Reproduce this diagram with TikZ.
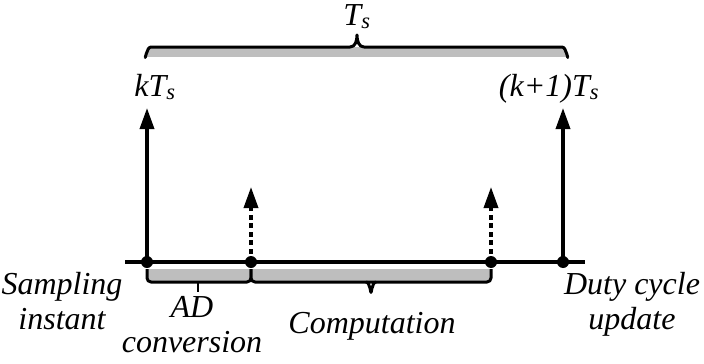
\documentclass[tikz,border=0pt]{standalone}
\usepackage{fontspec}
\setmainfont{Liberation Serif}
\usepackage{tikz}
\usetikzlibrary{arrows.meta,positioning,calc}
\definecolor{bracegray}{RGB}{190,190,190}

\begin{document}
\begin{tikzpicture}[x=1pt, y=-1pt, font=\itshape\fontsize{32}{35}\selectfont, dot/.style={circle, fill, inner sep=0pt, minimum size=12pt}, arr/.style={-{Triangle[length=21pt, width=14pt]}, line width=3.5pt}, darr/.style={arr, dash pattern=on 5pt off 3.5pt}, txt/.style={align=center, inner sep=0pt}, brc/.style={line width=3pt, line join=round}]
\useasboundingbox (0,0) rectangle (704,364);
% time axis and instants
\node[dot] (samp) at (147,262) {};
\node[dot] (conv) at (251,262) {};
\node[dot] (comp) at (491,262) {};
\node[dot] (duty) at (563,262) {};
\coordinate (axl) at (125,262);
\coordinate (axr) at (585,262);
\draw[line width=3.5pt] (axl) -- (axr);
% arrows
\coordinate (samptop) at (147,108);
\coordinate (convtop) at (251,187);
\coordinate (comptop) at (491,187);
\coordinate (dutytop) at (563,108);
\draw[arr] (samp.center) -- (samptop);
\draw[arr] (duty.center) -- (dutytop);
\draw[darr] (conv.center) -- (convtop);
\draw[darr] (comp.center) -- (comptop);
% period brace
\fill[bracegray] (147,47) rectangle (566,57);
\draw[brc] (145,57) to[out=-90, in=180] (151,47) -- (350,47) to[out=0, in=-90] (357,35) to[out=-90, in=180] (364,47) -- (562,47) to[out=0, in=-90] (568,57);
% AD conversion brace
\fill[bracegray] (147,269) rectangle (251,282);
\draw[brc] (147,269) -- (147,278) to[out=-90, in=180] (151,282) -- (247,282) to[out=0, in=-90] (251,278) -- (251,269);
\draw[line width=1.5pt] (198,282) -- (198,292);
% computation brace
\fill[bracegray] (251,269) rectangle (491,282);
\draw[brc] (251,269) -- (251,278) to[out=-90, in=180] (255,282) -- (487,282) to[out=0, in=-90] (491,278) -- (491,269);
\draw[brc] (366,282) to[out=0, in=-90] (371,292) to[out=-90, in=180] (376,282);
% labels
\node[txt, anchor=base] (per) at (357,25) {T\textsubscript{s}};
\node[txt, anchor=base] (kts) at (155,96) {kT\textsubscript{s}};
\node[txt, anchor=base] (k1ts) at (549,96) {(k+1)T\textsubscript{s}};
\node[txt, anchor=north] (lsamp) at (62,272) {Sampling\\instant};
\node[txt, anchor=north] (lconv) at (192,296) {AD\\conversion};
\node[txt, anchor=base] (lcomp) at (372,333) {Computation};
\node[txt, anchor=north] (lduty) at (632,272) {Duty cycle\\update};
\end{tikzpicture}
\end{document}
